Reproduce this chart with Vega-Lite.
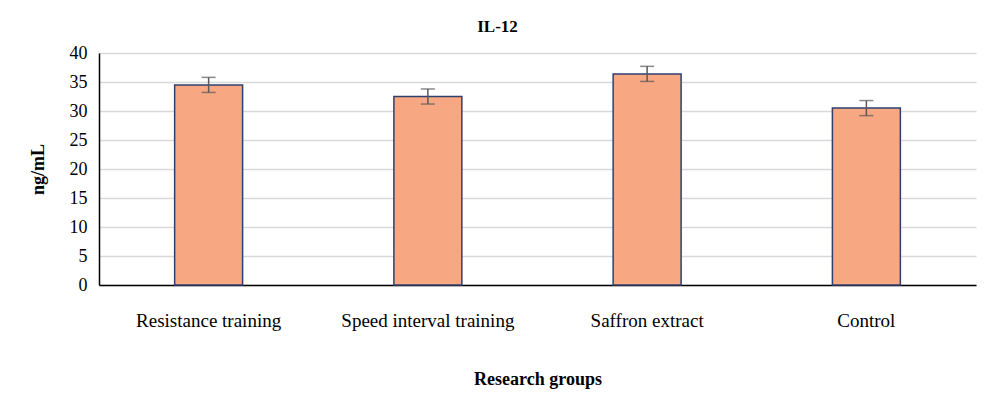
{
  "$schema": "https://vega.github.io/schema/vega-lite/v6.json",
  "width": 877,
  "height": 232,
  "autosize": {"type": "none"},
  "padding": {"left": 99, "top": 53, "right": 24, "bottom": 110},
  "background": "white",
  "title": {"text": "IL-12", "font": "Liberation Serif", "fontSize": 17, "fontWeight": "bold", "color": "#000", "offset": 8, "anchor": "middle", "dx": -40},
  "data": {"values": [
    {"group": "Resistance training", "mean": 34.5, "low": 33.2, "high": 35.8},
    {"group": "Speed interval training", "mean": 32.5, "low": 31.2, "high": 33.8},
    {"group": "Saffron extract", "mean": 36.4, "low": 35.1, "high": 37.7},
    {"group": "Control", "mean": 30.5, "low": 29.2, "high": 31.8}
  ]},
  "config": {
    "view": {"stroke": null},
    "axis": {"labelFont": "Liberation Serif", "titleFont": "Liberation Serif", "labelColor": "#000", "titleColor": "#000"},
    "axisY": {"ticks": false, "labelFontSize": 18, "labelPadding": 12, "gridColor": "#d9d9d9", "gridWidth": 1.5, "domainColor": "#000", "domainWidth": 1.5, "titleFontSize": 18, "titleFontWeight": "bold", "titlePadding": 22, "labelOverlap": false}
  },
  "encoding": {
    "x": {"field": "group", "type": "nominal", "sort": null,
      "scale": {"paddingInner": 0, "paddingOuter": 0},
      "axis": {"title": "Research groups", "labelAngle": 0, "labelFontSize": 19, "labelPadding": 26, "ticks": false, "domainColor": "#000", "domainWidth": 1.5, "titleFontSize": 18, "titleFontWeight": "bold", "titlePadding": 40}}
  },
  "layer": [
    {
      "mark": {"type": "bar", "color": "#F7A882", "stroke": "#2F4070", "strokeWidth": 1.5, "width": {"band": 0.31}},
      "encoding": {
        "y": {"field": "mean", "type": "quantitative", "scale": {"domain": [0, 40]},
          "axis": {"title": "ng/mL", "values": [0,5,10,15,20,25,30,35,40]}}
      }
    },
    {
      "mark": {"type": "rule", "color": "#595959", "strokeWidth": 1.5},
      "encoding": {"y": {"field": "low", "type": "quantitative", "axis": {"title": "ng/mL", "values": [0,5,10,15,20,25,30,35,40]}}, "y2": {"field": "high"}}
    },
    {
      "mark": {"type": "tick", "color": "#595959", "thickness": 1.5, "size": 14, "orient": "horizontal"},
      "encoding": {"y": {"field": "low", "type": "quantitative", "axis": {"title": "ng/mL", "values": [0,5,10,15,20,25,30,35,40]}}}
    },
    {
      "mark": {"type": "tick", "color": "#595959", "thickness": 1.5, "size": 14, "orient": "horizontal"},
      "encoding": {"y": {"field": "high", "type": "quantitative", "axis": {"title": "ng/mL", "values": [0,5,10,15,20,25,30,35,40]}}}
    }
  ]
}
